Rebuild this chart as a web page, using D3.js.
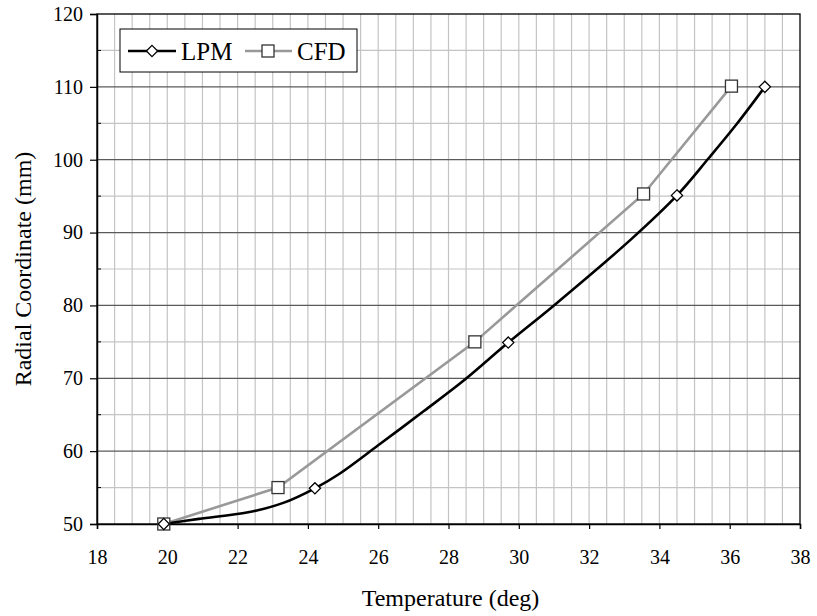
<!DOCTYPE html>
<html>
<head>
<meta charset="utf-8">
<script src="https://cdn.jsdelivr.net/npm/d3@7"></script>
<style>
  body { margin: 0; background: #fff; }
  svg text { font-family: "Liberation Serif", "Times New Roman", serif; fill: #000; }
  .axis text { font-family: "Liberation Serif", "Times New Roman", serif !important; font-size: 20px !important; fill: #000; }
</style>
</head>
<body>
<div id="chart"></div>
<script>
// marker points
var lpmT = [19.9, 24.2, 29.7, 34.5, 37.0];
var lpmR = [50, 54.9, 74.9, 95.1, 110];
// smooth LPM curve
var lpmCurveT = [19.9, 20.9, 22.3, 23.3, 24.2, 24.9, 26.0, 27.3, 28.45, 29.7, 31.0, 33.2, 34.5, 35.4, 36.2, 37.0];
var lpmCurveR = [50, 50.7, 51.6, 52.9, 54.9, 56.9, 60.8, 65.5, 69.75, 74.9, 80.0, 89.1, 95.1, 100.2, 104.9, 110];
var cfdT = [19.9, 23.15, 28.75, 33.55, 36.05];
var cfdR = [50, 55, 75, 95.3, 110.1];
var xTicks = [18, 20, 22, 24, 26, 28, 30, 32, 34, 36, 38];
var yTicks = [50, 60, 70, 80, 90, 100, 110, 120];

var svgWidth = 817;
var svgHeight = 616;
var margin = {top: 14, right: 17, bottom: 92, left: 97};
var width = svgWidth - margin.left - margin.right;
var height = svgHeight - margin.top - margin.bottom;

var svg = d3.select("#chart")
  .append("svg")
  .attr("width", svgWidth)
  .attr("height", svgHeight);

var chartGroup = svg.append("g")
  .attr("transform", `translate(${margin.left}, ${margin.top})`);

var x = d3.scaleLinear().domain([18, 38]).range([0, width]);
var y = d3.scaleLinear().domain([50, 120]).range([height, 0]);

// vertical minor grid every 0.5
chartGroup.append("g")
  .selectAll("line")
  .data(d3.range(18.5, 38, 0.5))
  .enter().append("line")
  .attr("x1", d => x(d)).attr("x2", d => x(d))
  .attr("y1", 0).attr("y2", height)
  .attr("stroke", "#c4c4c4").attr("stroke-width", 1.2);

// horizontal minor grid at 5s
chartGroup.append("g")
  .selectAll("line")
  .data(d3.range(55, 120, 10))
  .enter().append("line")
  .attr("x1", 0).attr("x2", width)
  .attr("y1", d => y(d)).attr("y2", d => y(d))
  .attr("stroke", "#c4c4c4").attr("stroke-width", 1.2);

// horizontal major grid
chartGroup.append("g")
  .selectAll("line")
  .data(yTicks.slice(1, -1))
  .enter().append("line")
  .attr("x1", 0).attr("x2", width)
  .attr("y1", d => y(d)).attr("y2", d => y(d))
  .attr("stroke", "#5a5a5a").attr("stroke-width", 1.3);

// frame
chartGroup.append("rect")
  .attr("width", width).attr("height", height)
  .attr("fill", "none").attr("stroke", "#000").attr("stroke-width", 1.3);

// axes
var bottomAxis = d3.axisBottom(x).tickValues(xTicks).tickSize(5).tickPadding(21);
var leftAxis = d3.axisLeft(y).tickValues(yTicks).tickSize(7).tickPadding(7);

var xAxis = chartGroup.append("g")
  .attr("class", "axis")
  .attr("transform", `translate(0, ${height})`)
  .call(bottomAxis)
  .attr("font-family", "Liberation Serif, serif")
  .attr("font-size", 20);
var yAxis = chartGroup.append("g")
  .attr("class", "axis")
  .call(leftAxis)
  .attr("font-family", "Liberation Serif, serif")
  .attr("font-size", 20);

chartGroup.selectAll(".axis .domain").attr("stroke", "#000").attr("stroke-width", 1.5);
chartGroup.selectAll(".axis .tick line").attr("stroke", "#000").attr("stroke-width", 1.2);

// minor inside ticks on y axis
chartGroup.append("g")
  .selectAll("line")
  .data(d3.range(55, 120, 10))
  .enter().append("line")
  .attr("x1", 0).attr("x2", 4)
  .attr("y1", d => y(d)).attr("y2", d => y(d))
  .attr("stroke", "#000");

// axis titles
chartGroup.append("text")
  .attr("x", width / 2 + 2)
  .attr("y", height + 82)
  .attr("text-anchor", "middle")
  .style("font-size", "24px")
  .text("Temperature (deg)");

chartGroup.append("text")
  .attr("transform", "rotate(-90)")
  .attr("x", -(269 - margin.top))
  .attr("y", -66)
  .attr("text-anchor", "middle")
  .style("font-size", "24px")
  .text("Radial Coordinate (mm)");

// lines
var lpmLine = d3.line()
  .x(d => x(d[0])).y(d => y(d[1]))
  .curve(d3.curveCatmullRom.alpha(0.5));
var cfdLine = d3.line()
  .x(d => x(d[0])).y(d => y(d[1]));

chartGroup.append("path")
  .datum(cfdT.map((t, i) => [t, cfdR[i]]))
  .attr("d", cfdLine)
  .attr("fill", "none").attr("stroke", "#999").attr("stroke-width", 2.6);

chartGroup.append("path")
  .datum(lpmCurveT.map((t, i) => [t, lpmCurveR[i]]))
  .attr("d", lpmLine)
  .attr("fill", "none").attr("stroke", "#000").attr("stroke-width", 2.6);

var diamond = d3.symbol().type(d3.symbolDiamond2).size(80);

chartGroup.append("g")
  .selectAll("rect")
  .data(cfdT.map((t, i) => [t, cfdR[i]]))
  .enter().append("rect")
  .attr("x", d => x(d[0]) - 6).attr("y", d => y(d[1]) - 6)
  .attr("width", 12).attr("height", 12)
  .attr("fill", "#fff").attr("stroke", "#333").attr("stroke-width", 1.3);

chartGroup.append("g")
  .selectAll("path")
  .data(lpmT.map((t, i) => [t, lpmR[i]]))
  .enter().append("path")
  .attr("d", diamond)
  .attr("transform", d => `translate(${x(d[0])}, ${y(d[1])})`)
  .attr("fill", "#fff").attr("stroke", "#000").attr("stroke-width", 1.3);

// legend
var legend = svg.append("g");
legend.append("rect")
  .attr("x", 120).attr("y", 29).attr("width", 237).attr("height", 43)
  .attr("fill", "#fff").attr("stroke", "#000").attr("stroke-width", 1);

legend.append("line")
  .attr("x1", 128).attr("x2", 176).attr("y1", 51).attr("y2", 51)
  .attr("stroke", "#000").attr("stroke-width", 2.6);
legend.append("path")
  .attr("d", diamond)
  .attr("transform", "translate(152, 51)")
  .attr("fill", "#fff").attr("stroke", "#000").attr("stroke-width", 1.3);
legend.append("text")
  .attr("x", 181).attr("y", 60)
  .style("font-size", "25px")
  .text("LPM");

legend.append("line")
  .attr("x1", 245).attr("x2", 292).attr("y1", 51).attr("y2", 51)
  .attr("stroke", "#999").attr("stroke-width", 2.6);
legend.append("rect")
  .attr("x", 262).attr("y", 45).attr("width", 12).attr("height", 12)
  .attr("fill", "#fff").attr("stroke", "#333").attr("stroke-width", 1.3);
legend.append("text")
  .attr("x", 297).attr("y", 60)
  .style("font-size", "25px")
  .text("CFD");
</script>
</body>
</html>
